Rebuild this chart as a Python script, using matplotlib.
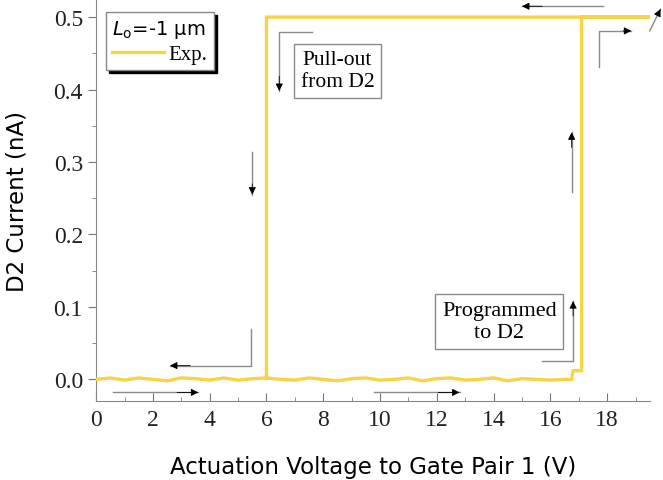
import matplotlib.pyplot as plt
from matplotlib.lines import Line2D

# sweep data (V, nA)
bottom_v = [0.0, 0.5, 1.0, 1.5, 2.0, 2.5, 3.0, 3.5, 4.0, 4.5, 5.0, 5.5, 6.0, 6.5,
            7.0, 7.5, 8.0, 8.5, 9.0, 9.5, 10.0, 10.5, 11.0, 11.5, 12.0, 12.5,
            13.0, 13.5, 14.0, 14.5, 15.0, 15.5, 16.0, 16.5]
bottom_i = [0.000, 0.002, -0.001, 0.002, 0.000, -0.002, 0.002, 0.001, -0.001,
            0.002, -0.001, 0.001, 0.002, 0.000, -0.001, 0.002, 0.000, -0.002,
            0.001, 0.002, -0.001, 0.000, 0.002, -0.002, 0.001, 0.002, -0.001,
            0.000, 0.002, -0.002, 0.001, 0.000, -0.001, 0.000]
step_v = [16.75, 16.8, 17.1, 17.1, 19.5, 6.0, 6.0]
step_i = [0.000, 0.012, 0.012, 0.500, 0.500, 0.500, 0.002]

# annotation arrows: gray polyline, black head at the last point
arrows = [
    [(5.46, 0.070), (5.46, 0.019), (2.6, 0.019)],
    [(0.6, -0.018), (3.6, -0.018)],
    [(9.8, -0.018), (12.8, -0.018)],
    [(5.5, 0.314), (5.5, 0.255)],
    [(7.6, 0.479), (6.45, 0.479), (6.45, 0.398)],
    [(15.7, 0.026), (16.8, 0.026), (16.8, 0.108)],
    [(16.75, 0.258), (16.75, 0.341)],
    [(17.85, 0.515), (15.0, 0.515)],
    [(17.7, 0.431), (17.7, 0.481), (18.85, 0.481)],
    [(19.5, 0.481), (19.88, 0.511)],
]

x_ticks = [0, 2, 4, 6, 8, 10, 12, 14, 16, 18]
y_ticks = [0.0, 0.1, 0.2, 0.3, 0.4, 0.5]

yellow = '#F6D447'
serif = 'Liberation Serif'

fig = plt.figure(figsize=(6.63, 4.81), dpi=100)
ax = fig.add_axes([0.145, 0.164, 0.835, 0.836])

ax.plot(bottom_v + step_v, bottom_i + step_i, color=yellow, lw=2.4,
        solid_joinstyle='miter', zorder=3)

for path in arrows:
    xs = [p[0] for p in path]
    ys = [p[1] for p in path]
    ax.plot(xs, ys, color='#8a8a8a', lw=1.0, clip_on=False, zorder=2)
    (x0, y0), (x1, y1) = path[-2], path[-1]
    ax.annotate('', xy=(x1, y1), xytext=(x1 - (x1 - x0) * 0.25, y1 - (y1 - y0) * 0.25),
                annotation_clip=False,
                arrowprops=dict(arrowstyle='-|>', color='black', lw=0.6,
                                mutation_scale=11, shrinkA=0, shrinkB=0))

box = dict(boxstyle='square,pad=0.3', fc='white', ec='#8a8a8a', lw=1.0)
ax.text(8.5, 0.426, 'Pull-out\nfrom D2', family=serif, fontsize=15.5,
        ha='center', va='center', linespacing=1.25, bbox=box)
ax.text(14.2, 0.080, 'Programmed\nto D2', family=serif, fontsize=16,
        ha='center', va='center', linespacing=1.25, bbox=box)

ax.set_xlim(0, 19.5)
ax.set_ylim(-0.03, 0.525)
ax.set_xticks(x_ticks)
ax.set_xticks([v + 1 for v in x_ticks], minor=True)
ax.set_yticks(y_ticks)
ax.set_yticks([v + 0.05 for v in y_ticks[:-1]], minor=True)
ax.set_yticklabels(['%.1f' % v for v in y_ticks])
ax.tick_params(axis='x', which='both', direction='in', color='#777777')
ax.tick_params(axis='x', which='major', length=6, pad=6)
ax.tick_params(axis='x', which='minor', length=3)
ax.tick_params(axis='y', which='major', direction='out', length=6, color='#777777')
ax.tick_params(axis='y', which='minor', direction='out', length=3, color='#777777')
for lab in ax.get_xticklabels() + ax.get_yticklabels():
    lab.set_family(serif)
    lab.set_fontsize(17)
    lab.set_color('#222222')

for s in ['top', 'right']:
    ax.spines[s].set_visible(False)
for s in ['left', 'bottom']:
    ax.spines[s].set_color('#888888')

ax.set_xlabel('Actuation Voltage to Gate Pair 1 (V)', fontsize=16.5, labelpad=18)
ax.set_ylabel('D2 Current (nA)', fontsize=16.5, labelpad=18)

handle = Line2D([], [], color=yellow, lw=2.4)
leg = ax.legend([handle], ['Exp.'], title=r'$L_\mathrm{o}$=-1 μm',
                loc='upper left', bbox_to_anchor=(0.018, 0.968), borderaxespad=0,
                prop={'family': serif, 'size': 15},
                title_fontproperties={'size': 14},
                fancybox=False, frameon=True, edgecolor='#888888',
                shadow={'color': 'black', 'alpha': 1},
                handlelength=2.5, handletextpad=0.2, borderpad=0.3,
                labelspacing=0.2)
leg._legend_box.align = 'left'
leg.get_frame().set_linewidth(1.0)

fig.savefig('out.png', dpi=100)
